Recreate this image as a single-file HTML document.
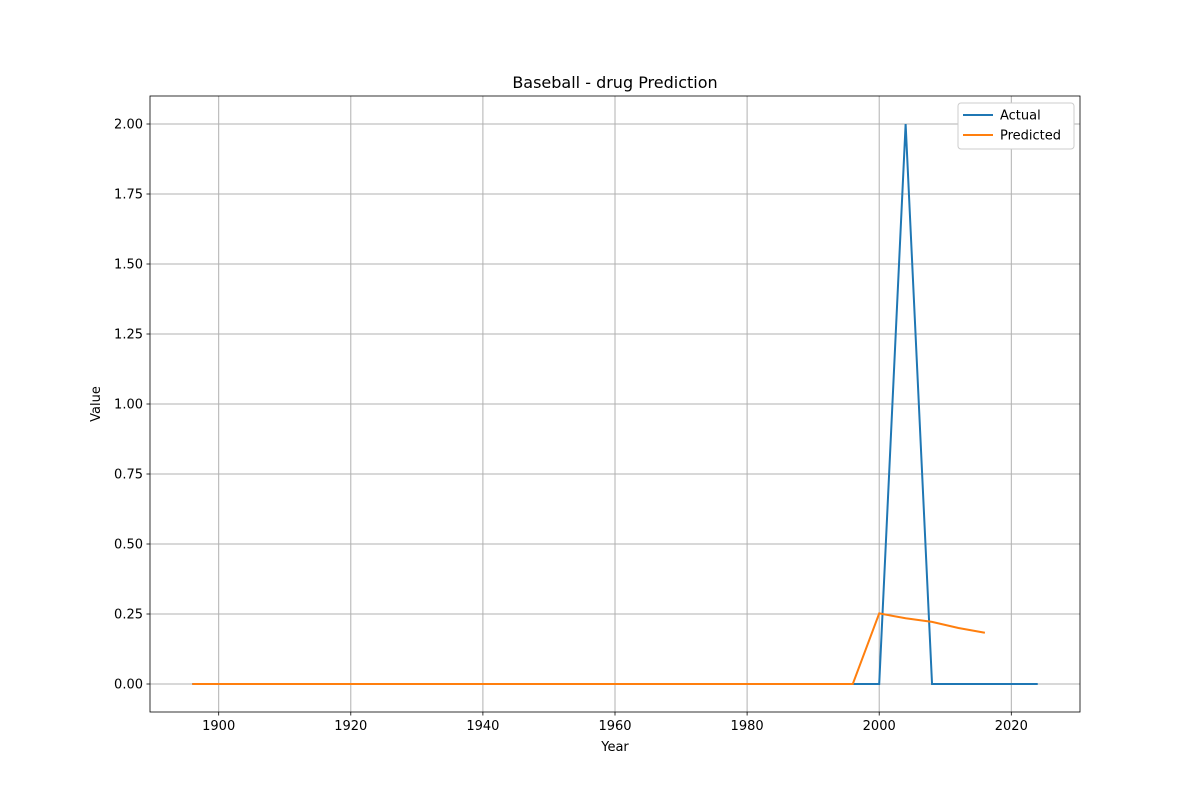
<!DOCTYPE html>
<html><head><meta charset="utf-8"><style>
body{margin:0;background:#fff;font-family:"Liberation Sans","DejaVu Sans",sans-serif;}
svg text{font-family:"DejaVu Sans","Liberation Sans",sans-serif;}
</style></head><body>
<svg id="c" width="1200" height="800" xmlns="http://www.w3.org/2000/svg"></svg>
<script>
const actualYears=[];for(let y=1896;y<=2024;y+=4)actualYears.push(y);
const actualValues=actualYears.map(y=>y===2004?2:0);
const predYears=[];for(let y=1896;y<=2016;y+=4)predYears.push(y);
const predTail=[0.252,0.235,0.222,0.20,0.183];
const predValues=predYears.map(y=>y<2000?0:predTail[(y-2000)/4]);
const xTicks=[1900,1920,1940,1960,1980,2000,2020];
const yTicks=[0,0.25,0.5,0.75,1.0,1.25,1.5,1.75,2.0];
const yTickLabels=["0.00","0.25","0.50","0.75","1.00","1.25","1.50","1.75","2.00"];
const L=150,R=1080,T=96,B=712,x0=1889.6,x1=2030.4,y0=-0.1,y1=2.1;
const X=v=>L+(v-x0)/(x1-x0)*(R-L), Y=v=>B-(v-y0)/(y1-y0)*(B-T);
const s=document.getElementById('c'),NS="http://www.w3.org/2000/svg";
function mk(t,a,txt){const e=document.createElementNS(NS,t);for(const k in a)e.setAttribute(k,a[k]);if(txt!=null)e.textContent=txt;s.appendChild(e);return e;}
xTicks.forEach(v=>{const x=X(v);
let g=mk('line',{x1:x,x2:x,y1:T,y2:B,stroke:'#b0b0b0','stroke-width':1});

mk('line',{x1:x,x2:x,y1:B,y2:B+3.5,stroke:'#000','stroke-width':0.8});
let t=mk('text',{x:x,y:B+18,'text-anchor':'middle','font-size':13},String(v));
});
yTicks.forEach((v,i)=>{const y=Y(v);
let g=mk('line',{x1:L,x2:R,y1:y,y2:y,stroke:'#b0b0b0','stroke-width':1});

mk('line',{x1:L-3.5,x2:L,y1:y,y2:y,stroke:'#000','stroke-width':0.8});
let t=mk('text',{x:L-7,y:y+4.5,'text-anchor':'end','font-size':13},yTickLabels[i]);
});
function line(xs,vs,c,n){let p=mk('polyline',{points:xs.map((x,i)=>X(x)+','+Y(vs[i])).join(' '),fill:'none',stroke:c,'stroke-width':2});
}
line(actualYears,actualValues,'#1f77b4','actual-line');
line(predYears,predValues,'#ff7f0e','predicted-line');
let f=mk('rect',{x:L,y:T,width:R-L,height:B-T,fill:'none',stroke:'#000','stroke-width':0.8});

let ti=mk('text',{x:(L+R)/2,y:88,'text-anchor':'middle','font-size':16},'Baseball - drug Prediction');

let xl=mk('text',{x:(L+R)/2,y:751,'text-anchor':'middle','font-size':13},'Year');

let yl=mk('text',{x:100,y:404,'text-anchor':'middle','font-size':13,transform:'rotate(-90 100 404)'},'Value');

let lg=mk('rect',{x:958,y:103,width:116,height:46,fill:'#fff',stroke:'#ccc',rx:3});

[['Actual','#1f77b4',115],['Predicted','#ff7f0e',135]].forEach(([n,c,y])=>{
mk('line',{x1:963,x2:993,y1:y,y2:y,stroke:c,'stroke-width':2});
let t=mk('text',{x:1000,y:y+4.5,'font-size':13},n);
});
</script>
</body></html>
